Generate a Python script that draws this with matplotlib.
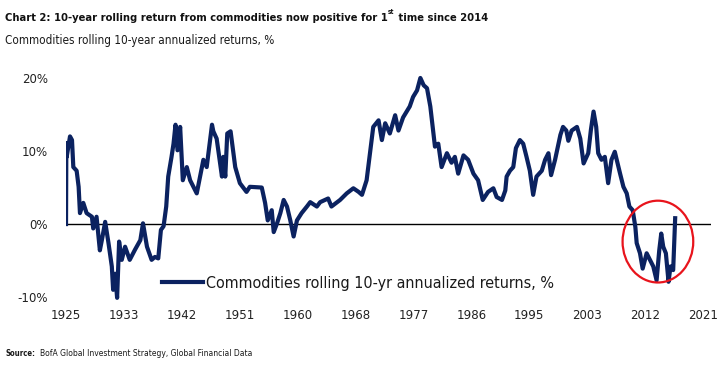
import matplotlib.pyplot as plt
from matplotlib import font_manager
from matplotlib.patches import Ellipse

# pick the narrowest installed sans face
fonts = font_manager.fontManager.ttflist
names = {f.name for f in fonts}
if 'Liberation Sans Narrow' in names:
    plt.rcParams['font.family'] = ['Liberation Sans Narrow', 'DejaVu Sans']
elif any(f.name == 'DejaVu Sans' and f.stretch == 'condensed' for f in fonts):
    plt.rcParams['font.family'] = ['DejaVu Sans']
    plt.rcParams['font.stretch'] = 'condensed'
else:
    plt.rcParams['font.family'] = ['Liberation Sans', 'DejaVu Sans']

# data (year, rolling 10y annualized return %)
years = [1925.0, 1925.05, 1925.1, 1925.6, 1925.9, 1926.1, 1926.6, 1926.9, 1927.1, 1927.6,
         1928.1, 1928.9, 1929.1, 1929.6, 1930.1, 1930.4, 1930.9, 1931.4, 1931.9, 1932.1,
         1932.4, 1932.7, 1933.0, 1933.4, 1933.9, 1934.6, 1935.4, 1936.2, 1936.6, 1937.2,
         1937.9, 1938.4, 1938.9, 1939.3, 1939.7, 1940.1, 1940.4, 1940.9, 1941.2, 1941.5,
         1941.8, 1942.2, 1942.6, 1943.2, 1943.7, 1944.7, 1945.7, 1946.2, 1947.0, 1947.2,
         1947.7, 1948.5, 1948.7, 1949.0, 1949.3, 1949.8, 1950.5, 1951.2, 1952.2, 1952.7,
         1954.5, 1955.0, 1955.4, 1956.0, 1956.3, 1956.8, 1957.3, 1957.8, 1958.3, 1958.8,
         1959.3, 1959.8, 1960.5, 1961.3, 1961.8, 1962.8, 1963.3, 1964.5, 1965.0, 1966.3,
         1967.3, 1968.3, 1969.1, 1969.6, 1970.3, 1970.8, 1971.3, 1972.1, 1972.6, 1973.1,
         1973.8, 1974.6, 1975.1, 1975.8, 1976.8, 1977.3, 1977.9, 1978.4, 1978.9, 1979.4,
         1979.9, 1980.6, 1981.1, 1981.6, 1982.4, 1983.1, 1983.6, 1984.1, 1984.9, 1985.6,
         1986.4, 1987.1, 1987.8, 1988.6, 1989.4, 1989.9, 1990.7, 1991.2, 1991.4, 1991.9,
         1992.4, 1992.8, 1993.4, 1993.9, 1994.4, 1994.9, 1995.4, 1995.9, 1996.7, 1997.2,
         1997.7, 1998.1, 1998.7, 1999.5, 1999.9, 2000.4, 2000.7, 2001.2, 2002.0, 2002.5,
         2003.0, 2003.7, 2004.1, 2004.5, 2004.9, 2005.2, 2005.7, 2006.2, 2006.7, 2007.2,
         2007.7, 2008.1, 2008.5, 2009.0, 2009.5, 2009.9, 2010.4, 2010.8, 2011.0, 2011.5,
         2011.9, 2012.5, 2013.0, 2013.5, 2014.0, 2014.4, 2014.7, 2015.0, 2015.4, 2015.8,
         2016.1, 2016.5, 2016.8]
returns = [0.0, 11.1, 9.2, 12.0, 11.5, 7.8, 7.3, 5.1, 1.5, 2.9,
           1.5, 1.0, -0.6, 1.0, -3.6, -2.2, 0.3, -2.6, -5.8, -9.0,
           -6.8, -10.1, -2.4, -4.9, -3.1, -4.9, -3.5, -2.2, 0.1, -3.1,
           -4.9, -4.5, -4.7, -0.8, -0.3, 2.4, 6.5, 9.2, 11.0, 13.6,
           10.1, 13.3, 6.0, 7.8, 6.0, 4.2, 8.8, 7.8, 13.6, 12.7,
           11.7, 6.5, 9.2, 6.5, 12.4, 12.7, 7.8, 5.6, 4.4, 5.1,
           5.0, 2.9, 0.5, 1.9, -1.1, 0.1, 1.5, 3.3, 2.4, 0.5,
           -1.7, 0.5, 1.5, 2.4, 3.0, 2.4, 3.0, 3.5, 2.4, 3.3,
           4.2, 4.9, 4.4, 4.0, 6.0, 9.7, 13.3, 14.2, 11.5, 13.8,
           12.4, 14.9, 12.8, 14.6, 16.1, 17.4, 18.3, 20.0, 19.0, 18.6,
           16.1, 10.6, 11.0, 7.8, 9.7, 8.4, 9.2, 6.9, 9.4, 8.8,
           6.9, 6.0, 3.3, 4.4, 4.9, 3.7, 3.3, 4.6, 6.5, 7.3,
           7.8, 10.4, 11.5, 11.0, 9.2, 7.3, 4.0, 6.5, 7.3, 8.8,
           9.7, 6.7, 8.8, 12.2, 13.3, 12.8, 11.4, 12.8, 13.3, 11.7,
           8.3, 9.7, 12.9, 15.4, 13.3, 9.7, 8.8, 9.2, 5.6, 8.8,
           9.9, 8.4, 6.9, 5.1, 4.2, 2.4, 1.9, -0.4, -2.6, -4.0,
           -6.1, -4.0, -4.9, -5.8, -7.7, -3.6, -1.3, -3.1, -4.0, -7.9,
           -5.8, -6.3, 0.8]

tick_labels = ['1925', '1933', '1942', '1951', '1960', '1968', '1977',
               '1986', '1995', '2003', '2012', '2021']
y_ticks = [-10, 0, 10, 20]

title_main = 'Chart 2: 10-year rolling return from commodities now positive for 1'
title_sup = 'st'
title_end = ' time since 2014'
subtitle = 'Commodities rolling 10-year annualized returns, %'
series_name = 'Commodities rolling 10-yr annualized returns, %'
source_txt = 'BofA Global Investment Strategy, Global Financial Data'

navy = '#0B2260'
W, H = 720, 365

fig = plt.figure(figsize=(7.2, 3.65), dpi=100)
ax = fig.add_axes([0.0917, 0.176, 0.8958, 0.6404])
r = fig.canvas.get_renderer()


def fit_size(txt, target_px):
    # rescale a text so its rendered width matches target_px
    w = txt.get_window_extent(r).width
    txt.set_fontsize(txt.get_fontsize() * target_px / w)
    return txt.get_fontsize()


ax.axhline(0, color='black', lw=1.0, zorder=1)
ax.plot(years, returns, color=navy, lw=3.0, solid_joinstyle='round',
        label=series_name, zorder=2)

# red ring around the recent dip
ring = Ellipse((2014.2, -2.4), 10.65, 11.2, fill=False, edgecolor='#E8141C', lw=1.6, zorder=3)
ax.add_patch(ring)

ax.set_xlim(1925, 2022.2)
ax.set_ylim(-10.5, 21.5)

first, last = 1925, 2021
step = (last - first) / (len(tick_labels) - 1)
ax.set_xticks([first + i * step for i in range(len(tick_labels))])
ax.set_xticklabels(tick_labels)
ax.set_yticks(y_ticks)
ax.set_yticklabels([f'{v}%' for v in y_ticks])

probe = fig.text(0, 0, '1925', fontsize=11)
tick_fs = fit_size(probe, 30)
probe.remove()
ax.tick_params(axis='x', length=0, pad=6, labelsize=tick_fs, labelcolor='#222222')
ax.tick_params(axis='y', length=0, pad=13, labelsize=tick_fs, labelcolor='#222222')
for s in ax.spines.values():
    s.set_visible(False)

probe = fig.text(0, 0, series_name, fontsize=12)
leg_fs = fit_size(probe, 350)
probe.remove()
ax.legend(loc='center left', bbox_to_anchor=(0.1488, 0.0757), frameon=False,
          fontsize=leg_fs, handlelength=41 / (leg_fs * 100 / 72), handletextpad=0.2,
          borderpad=0, borderaxespad=0, labelcolor='#1a1a1a')

# title with superscript "st"
probe = fig.text(0, 0, title_main + 'st' + title_end, fontsize=11, fontweight='bold')
title_fs = fit_size(probe, 485)
probe.remove()
t1 = fig.text(5 / W, 1 - 21 / H, title_main, fontsize=title_fs, fontweight='bold', color='#111111')
bb = t1.get_window_extent(r)
t2 = fig.text(bb.x1 / W + 0.5 / W, 1 - 14 / H, title_sup, fontsize=title_fs * 0.6,
              fontweight='bold', color='#111111')
bb2 = t2.get_window_extent(r)
fig.text(bb2.x1 / W, 1 - 21 / H, title_end, fontsize=title_fs, fontweight='bold', color='#111111')

sub = fig.text(5 / W, 1 - 44 / H, subtitle, fontsize=10, color='#1a1a1a')
fit_size(sub, 268)

s1 = fig.text(5 / W, 1 - 356 / H, 'Source:', fontsize=7, fontweight='bold', color='#1a1a1a')
fit_size(s1, 30)
s2 = fig.text(40 / W, 1 - 356 / H, source_txt, fontsize=7, color='#1a1a1a')
fit_size(s2, 212)

fig.savefig('out.png', dpi=100)
